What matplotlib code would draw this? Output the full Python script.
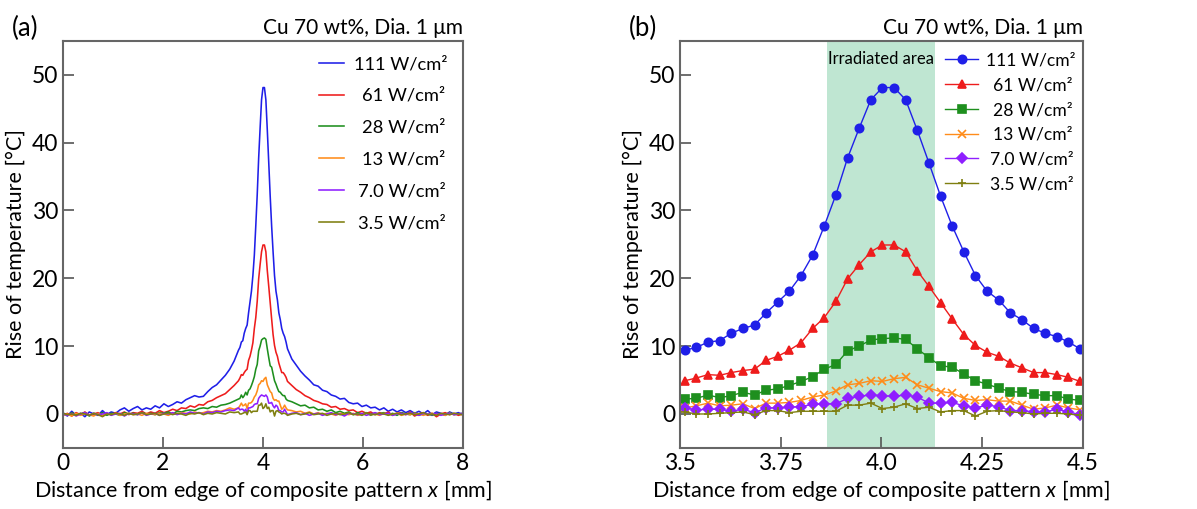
import numpy as np
import matplotlib
matplotlib.use("Agg")
import matplotlib.pyplot as plt

plt.rcParams['font.family'] = ['Lato', 'DejaVu Sans']
plt.rcParams['mathtext.fontset'] = 'custom'
plt.rcParams['mathtext.rm'] = 'Lato'
plt.rcParams['mathtext.it'] = 'Lato:italic'

# labels / colours
labels = ['111 W/cm²', '61 W/cm²', '28 W/cm²', '13 W/cm²', '7.0 W/cm²', '3.5 W/cm²']
colors = ['#1f1fe8', '#ee1c1c', '#1e8f1e', '#ff8c1a', '#8f1fff', '#7f7f10']
markers = ['o', '^', 's', 'x', 'D', '+']

# measured points around the irradiated area (panel b), 35 camera pixels
x_mid = np.linspace(3.512, 4.493, 35)
p111_mid = [9.4, 9.8, 10.6, 10.8, 11.9, 12.6, 13.1, 14.9, 16.5, 18.1, 20.4, 23.4, 27.7, 32.3, 37.7,
            42.1, 46.3, 48.1, 48.1, 46.3, 41.8, 37.0, 32.1, 27.7, 23.9, 20.4, 18.1, 16.8, 14.9, 13.9,
            12.6, 11.9, 11.4, 10.6, 9.6]
p61_mid = [4.9, 5.3, 5.8, 5.7, 6.1, 6.4, 6.6, 7.9, 8.5, 9.4, 10.5, 12.6, 14.2, 16.6, 19.9,
           22.0, 23.9, 24.9, 24.9, 23.9, 21.1, 18.8, 16.4, 14.0, 11.7, 10.1, 9.1, 8.5, 7.5, 6.8,
           6.1, 6.1, 5.8, 5.4, 4.8]
p28_mid = [2.2, 2.3, 2.8, 2.4, 2.7, 3.2, 2.8, 3.5, 3.7, 4.2, 4.8, 5.5, 6.6, 7.3, 9.3,
           10.0, 10.9, 11.1, 11.2, 11.0, 9.6, 8.3, 7.1, 6.9, 5.9, 4.9, 4.4, 3.8, 3.3, 3.2,
           2.9, 2.7, 2.7, 2.2, 2.0]
p13_mid = [0.9, 1.2, 1.6, 1.2, 1.3, 1.5, 0.8, 1.6, 1.6, 1.7, 2.0, 2.5, 2.8, 3.4, 4.3,
           4.5, 4.9, 4.8, 5.2, 5.4, 4.3, 3.8, 3.3, 3.1, 2.3, 2.0, 2.1, 1.9, 1.9, 1.3,
           0.7, 0.9, 1.3, 0.9, 0.6]
p7_mid = [0.9, 0.6, 0.7, 0.7, 0.4, 0.7, 0.2, 0.9, 0.9, 1.0, 1.1, 1.4, 1.5, 1.5, 2.3,
          2.6, 2.8, 2.7, 2.6, 2.8, 2.5, 1.6, 1.6, 1.7, 1.2, 0.9, 1.3, 1.1, 0.5, 0.5,
          0.3, 0.3, 0.7, 0.3, -0.1]
p35_mid = [0.3, 0.0, 0.0, 0.1, 0.2, 0.3, -0.1, 0.5, 0.5, 0.2, 0.4, 0.4, 0.4, 0.4, 1.3,
           1.3, 1.6, 0.8, 1.0, 1.5, 0.8, 1.0, 0.3, 0.5, 0.5, -0.3, 0.4, 0.5, 0.3, 0.2,
           0.0, 0.1, 0.1, 0.0, -0.2]

# tails of the full profile (panel a), every third pixel
x_left = np.linspace(0.0, 3.425, 40)
x_right = np.linspace(4.58, 8.0, 40)
p111_left = [0.2, -0.3, 0.4, -0.2, 0.1, -0.4, 0.3, 0.0, -0.2, 0.5, -0.1,
             0.3, 0.1, 0.6, 0.9, 0.4, 0.8, 1.1, 0.6, 0.9,
             0.7, 1.2, 0.9, 1.5, 1.1, 1.4, 1.8, 1.6, 2.1, 2.4,
             2.7, 2.5, 2.6, 3.3, 3.9, 4.3, 5.0, 5.7, 6.6, 7.8]
p111_right = [8.1, 7.2, 6.3, 5.6, 5.0, 4.3, 4.1, 3.5, 3.3, 2.8, 2.6, 2.2, 2.3, 1.7, 1.5, 1.6, 1.1, 1.3, 0.9, 1.0,
              0.6, 0.9, 0.4, 0.7, 0.3, 0.6, 0.2, 0.5, 0.1, 0.4, 0.0, 0.5, -0.1, 0.3, 0.1, -0.2, 0.3, 0.0, 0.2, -0.1]
p61_left = [-0.2, 0.1, -0.3, 0.2, -0.1, 0.3, -0.2, 0.0, 0.2, -0.3, 0.1,
            -0.1, 0.2, 0.0, 0.3, -0.1, 0.2, 0.1, 0.4, 0.0,
            0.3, 0.1, 0.5, 0.2, 0.4, 0.7, 0.5, 0.9, 0.8, 1.2,
            1.0, 1.4, 1.3, 1.8, 2.0, 2.4, 2.7, 3.0, 3.6, 4.2]
p61_right = [4.2, 3.6, 3.2, 2.7, 2.4, 2.0, 1.8, 1.5, 1.4, 1.0, 1.1, 0.7, 0.8, 0.5, 0.6, 0.2, 0.4, 0.1, 0.3, -0.1,
             0.2, 0.0, 0.3, -0.2, 0.1, 0.2, -0.1, 0.3, -0.3, 0.0, 0.2, -0.2, 0.1, -0.4, 0.0, 0.2, -0.1, 0.1, -0.2, 0.0]
p28_left = [0.1, -0.2, 0.2, -0.1, 0.0, 0.2, -0.3, 0.1, -0.1, 0.2, -0.2,
            0.1, 0.0, -0.2, 0.2, 0.0, 0.1, -0.1, 0.2, 0.0,
            0.1, -0.1, 0.2, 0.1, 0.3, 0.0, 0.4, 0.3, 0.5, 0.6,
            0.5, 0.8, 0.9, 0.8, 1.1, 1.0, 1.3, 1.4, 1.6, 1.9]
p28_right = [1.8, 1.5, 1.2, 1.3, 0.9, 1.0, 0.6, 0.7, 0.4, 0.6, 0.2, 0.4, 0.1, 0.3, -0.1, 0.2, 0.0, 0.2, -0.2, 0.1,
             0.0, 0.2, -0.1, 0.1, -0.2, 0.2, 0.0, -0.1, 0.2, -0.2, 0.1, 0.0, -0.2, 0.1, 0.0, -0.1, 0.2, -0.1, 0.0, 0.1]
p13_left = [-0.2, 0.0, -0.3, 0.1, -0.2, 0.0, -0.1, -0.3, 0.1, -0.2, 0.0,
            -0.1, 0.1, -0.2, 0.0, 0.1, -0.1, 0.0, -0.2, 0.1,
            0.0, -0.1, 0.1, 0.0, -0.2, 0.1, 0.0, 0.2, 0.1, 0.0,
            0.3, 0.1, 0.2, 0.4, 0.3, 0.5, 0.4, 0.6, 0.9, 0.7]
p13_right = [0.5, 0.3, 0.4, 0.1, 0.3, 0.0, 0.2, -0.1, 0.1, 0.0, -0.2, 0.1, 0.0, -0.1, 0.1, -0.2, 0.0, 0.1, -0.1, 0.0,
             -0.2, 0.1, 0.0, -0.1, 0.1, -0.2, 0.0, -0.1, 0.1, 0.0, -0.2, 0.0, 0.1, -0.1, 0.0, -0.2, 0.1, -0.1, 0.0, -0.1]
p7_left = [0.0, -0.2, 0.1, -0.3, 0.0, 0.2, -0.2, 0.1, -0.1, 0.0, 0.2,
           -0.2, 0.0, 0.1, -0.3, 0.1, 0.0, -0.1, 0.2, -0.2,
           0.0, 0.1, -0.2, 0.1, 0.0, 0.2, -0.1, 0.1, 0.0, 0.3,
           0.1, 0.2, 0.0, 0.3, 0.2, 0.4, 0.3, 0.5, 0.6, 0.5]
p7_right = [0.1, 0.2, -0.1, 0.1, -0.2, 0.0, 0.1, -0.2, 0.0, 0.2, -0.1, 0.0, -0.3, 0.1, 0.0, -0.1, 0.1, -0.2, 0.0, 0.2,
            -0.1, 0.0, 0.1, -0.2, 0.0, 0.1, -0.1, 0.2, 0.0, -0.2, 0.1, 0.0, -0.1, 0.1, -0.2, 0.0, 0.1, -0.1, 0.0, 0.1]
p35_left = [0.1, -0.1, 0.0, -0.2, 0.1, 0.0, -0.2, 0.1, -0.1, -0.4, 0.0,
            -0.1, 0.1, 0.0, -0.2, 0.1, -0.1, 0.0, 0.2, -0.1,
            0.0, 0.1, -0.2, 0.0, 0.1, -0.1, 0.1, 0.0, -0.2, 0.1,
            0.0, 0.2, -0.1, 0.1, 0.0, 0.2, 0.1, 0.0, 0.3, 0.2]
p35_right = [0.0, 0.1, -0.1, 0.0, 0.2, -0.1, 0.0, 0.1, -0.2, 0.0, 0.1, -0.1, 0.0, 0.2, -0.1, 0.0, -0.2, 0.1, 0.0, -0.1,
             0.1, 0.0, -0.2, 0.0, 0.1, -0.1, 0.0, 0.1, -0.1, 0.0, 0.2, -0.1, 0.0, -0.2, 0.1, 0.0, -0.1, 0.1, 0.0, -0.1]

mids = [p111_mid, p61_mid, p28_mid, p13_mid, p7_mid, p35_mid]
lefts = [p111_left, p61_left, p28_left, p13_left, p7_left, p35_left]
rights = [p111_right, p61_right, p28_right, p13_right, p7_right, p35_right]

irr_start, irr_end = 3.866, 4.133

fig = plt.figure(figsize=(11.97, 5.09), dpi=100)
ax1 = fig.add_axes([0.0526, 0.12, 0.334, 0.80])
ax2 = fig.add_axes([0.568, 0.12, 0.3367, 0.80])

x_full = np.concatenate([x_left, x_mid, x_right])
for lab, c, l, m, r in zip(labels, colors, lefts, mids, rights):
    ax1.plot(x_full, np.concatenate([l, m, r]), color=c, lw=1.15, label=lab)

for lab, c, mk, m in zip(labels, colors, markers, mids):
    ms = 6 if mk in ('o', '^', 's') else 5.5
    if mk == 'D':
        ms = 5
    ax2.plot(x_mid, m, color=c, lw=1.0, marker=mk, ms=ms, mew=1.2, label=lab)

ax2.axvspan(irr_start, irr_end, color='#bfe6d2', lw=0, zorder=0)
ax2.text((irr_start + irr_end) / 2, 52.3, 'Irradiated area', ha='center', va='center', fontsize=12)

ax1.set_xlim(0, 8)
ax1.set_xticks([0, 2, 4, 6, 8])
ax2.set_xlim(3.5, 4.5)
ax2.set_xticks([3.5, 3.75, 4.0, 4.25, 4.5])
ax2.set_xticklabels(['3.5', '3.75', '4.0', '4.25', '4.5'])

for ax, tag in [(ax1, '(a)'), (ax2, '(b)')]:
    ax.set_ylim(-5, 55)
    ax.set_yticks([0, 10, 20, 30, 40, 50])
    ax.tick_params(direction='in', length=8, width=1.2, labelsize=16.5, color='#555555')
    for s in ax.spines.values():
        s.set_color('#666666')
        s.set_linewidth(1.5)
    ax.set_xlabel('Distance from edge of composite pattern $x$ [mm]', fontsize=15.5, labelpad=3)
    ax.set_ylabel('Rise of temperature [°C]', fontsize=15.5, labelpad=4)
    ax.set_title('Cu 70 wt%, Dia. 1 μm', loc='right', fontsize=15, pad=5)
    pos = ax.get_position()
    fig.text(pos.x0 - 0.043, 0.93, tag, fontsize=18.5)

leg1 = ax1.legend(loc='upper right', frameon=False, fontsize=13.2, handlelength=1.35,
                  labelspacing=0.86, borderaxespad=0, handletextpad=0.55,
                  bbox_to_anchor=(0.981, 0.98))
leg2 = ax2.legend(loc='upper right', frameon=False, fontsize=12.6, handlelength=1.85,
                  labelspacing=0.5, borderaxespad=0, handletextpad=0.45,
                  bbox_to_anchor=(0.998, 0.988))

# right-align legend labels: push the shorter ones right (offsets in points)
fig.canvas.draw()
renderer = fig.canvas.get_renderer()
for leg in (leg1, leg2):
    widths = [t.get_window_extent(renderer).width for t in leg.get_texts()]
    wmax = max(widths)
    for t, w in zip(leg.get_texts(), widths):
        t.set_position(((wmax - w) * 72.0 / fig.dpi, 0))

fig.savefig('out.png', dpi=100)
